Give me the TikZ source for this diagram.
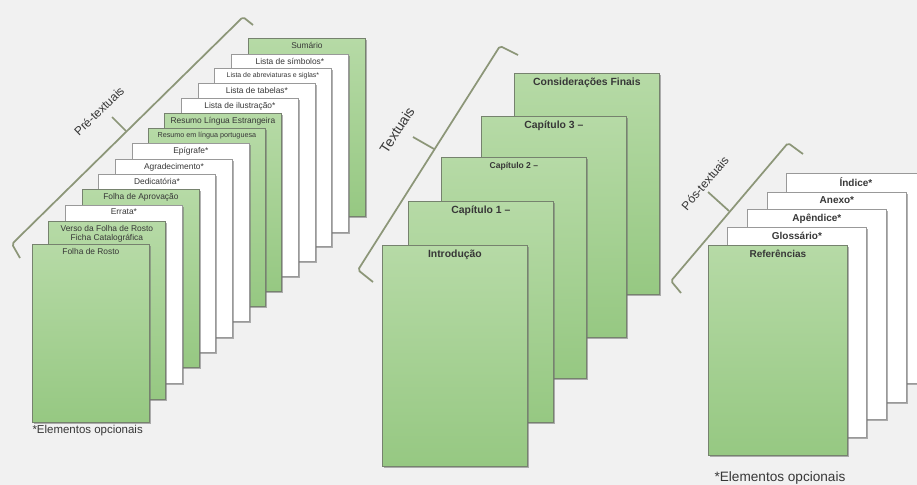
\documentclass[tikz,border=0pt]{standalone}
\usepackage{fontspec}
\setmainfont{Liberation Sans}
\usetikzlibrary{positioning,shadows}

\definecolor{bgcol}{RGB}{241,241,241}
\definecolor{pgtop}{RGB}{182,218,166}
\definecolor{pgbot}{RGB}{150,200,130}
\definecolor{pgline}{RGB}{118,130,110}
\definecolor{brcol}{RGB}{140,150,120}
\definecolor{txtcol}{RGB}{55,55,55}

\tikzset{every picture/.style={line width=0.75pt}}
\tikzset{
  sheet/.style={rectangle, anchor=north west, inner sep=0pt, line width=0.6pt,
    drop shadow={shadow xshift=1.1pt, shadow yshift=-1.1pt, fill=black!55, opacity=0.55}},
  greensheet/.style={sheet, draw=pgline, top color=pgtop, bottom color=pgbot},
  whitesheet/.style={sheet, draw=black!40, fill=white},
  presheet/.style={minimum width=87.75pt, minimum height=133.5pt},
  txtsheet/.style={minimum width=108.75pt, minimum height=165.75pt},
  possheet/.style={minimum width=104.25pt, minimum height=157.5pt},
  pretext/.style={anchor=north, inner xsep=2pt, inner ysep=1.2pt, outer ysep=1.8pt,
    font=\fontsize{6.3}{7}\selectfont, text=txtcol, align=center},
  txttext/.style={anchor=north, inner xsep=2pt, inner ysep=1.5pt, outer ysep=2.2pt,
    font=\fontsize{7.8}{9}\selectfont\bfseries, text=txtcol},
  postext/.style={anchor=north, inner xsep=2pt, inner ysep=1.5pt, outer ysep=2pt,
    font=\fontsize{7.5}{9}\selectfont\bfseries, text=txtcol},
  bracketline/.style={draw=brcol, line width=1.3pt, rounded corners=1.5pt},
  grouptext/.style={inner sep=1pt, font=\fontsize{9}{10}\selectfont, text=txtcol},
  notetext/.style={font=\fontsize{8.6}{10}\selectfont, text=txtcol}
}

\begin{document}
\begin{tikzpicture}[x=0.75pt,y=0.75pt,yscale=-1,xscale=1]
    %set diagram: 917 x 485
    \useasboundingbox (0,0) rectangle (917,485);
    \fill[bgcol] (0,0) rectangle (917,485);

    %Pre-textuais stack, back to front
    \node[greensheet, presheet] (sumario) at (248,38) {};
    \node[pretext, below=0pt of sumario.north] (tsumario) {Sumário};
    \node[whitesheet, presheet] (simbolos) at (231,54) {};
    \node[pretext, below=0pt of simbolos.north] (tsimbolos) {Lista de símbolos*};
    \node[whitesheet, presheet] (abreviaturas) at (214,68) {};
    \node[pretext, font=\fontsize{5.2}{6}\selectfont, below=0pt of abreviaturas.north] (tabreviaturas) {Lista de abreviaturas e siglas*};
    \node[whitesheet, presheet] (tabelas) at (198,83) {};
    \node[pretext, below=0pt of tabelas.north] (ttabelas) {Lista de tabelas*};
    \node[whitesheet, presheet] (ilustracao) at (181,98) {};
    \node[pretext, below=0pt of ilustracao.north] (tilustracao) {Lista de ilustração*};
    \node[greensheet, presheet] (resumole) at (164,113) {};
    \node[pretext, below=0pt of resumole.north] (tresumole) {Resumo Língua Estrangeira};
    \node[greensheet, presheet] (resumolp) at (148,128) {};
    \node[pretext, font=\fontsize{5.4}{6}\selectfont, below=0pt of resumolp.north] (tresumolp) {Resumo em língua portuguesa};
    \node[whitesheet, presheet] (epigrafe) at (132,143) {};
    \node[pretext, below=0pt of epigrafe.north] (tepigrafe) {Epígrafe*};
    \node[whitesheet, presheet] (agradecimento) at (115,159) {};
    \node[pretext, below=0pt of agradecimento.north] (tagradecimento) {Agradecimento*};
    \node[whitesheet, presheet] (dedicatoria) at (98,174) {};
    \node[pretext, below=0pt of dedicatoria.north] (tdedicatoria) {Dedicatória*};
    \node[greensheet, presheet] (aprovacao) at (82,189) {};
    \node[pretext, below=0pt of aprovacao.north] (taprovacao) {Folha de Aprovação};
    \node[whitesheet, presheet] (errata) at (65,205) {};
    \node[pretext, below=0pt of errata.north] (terrata) {Errata*};
    \node[greensheet, presheet] (verso) at (48,221) {};
    \node[pretext, below=0pt of verso.north] (tverso) {Verso da Folha de Rosto\\Ficha Catalográfica};
    \node[greensheet, presheet] (rosto) at (32,244) {};
    \node[pretext, below=0pt of rosto.north] (trosto) {Folha de Rosto};

    %Textuais stack
    \node[greensheet, txtsheet] (finais) at (514,73) {};
    \node[txttext, below=0pt of finais.north] (tfinais) {Considerações Finais};
    \node[greensheet, txtsheet] (cap3) at (481,116) {};
    \node[txttext, below=0pt of cap3.north] (tcap3) {Capítulo 3 –};
    \node[greensheet, txtsheet] (cap2) at (441,157) {};
    \node[txttext, font=\fontsize{6.4}{8}\selectfont\bfseries, below=0pt of cap2.north] (tcap2) {Capítulo 2 –};
    \node[greensheet, txtsheet] (cap1) at (408,201) {};
    \node[txttext, below=0pt of cap1.north] (tcap1) {Capítulo 1 –};
    \node[greensheet, txtsheet] (intro) at (382,245) {};
    \node[txttext, below=0pt of intro.north] (tintro) {Introdução};

    %Pos-textuais stack
    \node[whitesheet, possheet] (indice) at (786,173) {};
    \node[postext, below=0pt of indice.north] (tindice) {Índice*};
    \node[whitesheet, possheet] (anexo) at (767,192) {};
    \node[postext, below=0pt of anexo.north] (tanexo) {Anexo*};
    \node[whitesheet, possheet] (apendice) at (747,209) {};
    \node[postext, below=0pt of apendice.north] (tapendice) {Apêndice*};
    \node[whitesheet, possheet] (glossario) at (727,227) {};
    \node[postext, below=0pt of glossario.north] (tglossario) {Glossário*};
    \node[greensheet, possheet] (referencias) at (708,245) {};
    \node[postext, below=0pt of referencias.north] (treferencias) {Referências};

    %Brackets
    \draw[bracketline] (20,258) -- (12,244) -- (243,17) -- (253,25);
    \draw[bracketline] (126,131) -- (112,117);
    \draw[bracketline] (373,282) -- (358,270) -- (500,46) -- (518,55);
    \draw[bracketline] (434,149) -- (413,137);
    \draw[bracketline] (681,293) -- (671,281) -- (788,143) -- (803,154);
    \draw[bracketline] (729,211) -- (708,192);

    % Text Node
    \node[grouptext, rotate=44] (lpre) at (99,111) {Pré-textuais};
    % Text Node
    \node[grouptext, font=\fontsize{10.5}{12}\selectfont, rotate=57] (ltxt) at (397,130) {Textuais};
    % Text Node
    \node[grouptext, rotate=50] (lpos) at (705,183) {Pós-textuais};
    % Text Node
    \node[notetext, anchor=west, inner sep=0pt] (nota1) at (32,431) {*Elementos opcionais};
    % Text Node
    \node[notetext, font=\fontsize{10.2}{12}\selectfont] (nota2) at (780,478) {*Elementos opcionais};
\end{tikzpicture}
\end{document}
